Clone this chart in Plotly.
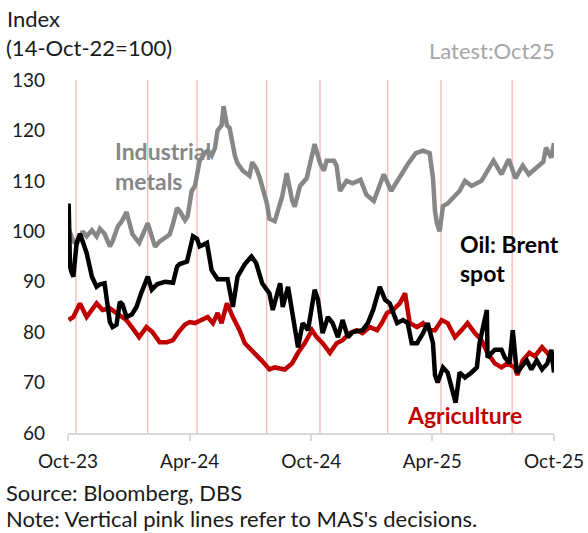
import plotly.graph_objects as go

# ---------------- data ----------------
metals_dates = ["2023-10-02","2023-10-09","2023-10-14","2023-10-19","2023-10-23","2023-10-29","2023-11-06","2023-11-13",
    "2023-11-18","2023-11-25","2023-12-03","2023-12-07","2023-12-15","2023-12-21","2023-12-28","2024-01-06","2024-01-16",
    "2024-01-29","2024-02-09","2024-02-16","2024-02-27","2024-03-02","2024-03-07","2024-03-13","2024-03-17","2024-03-25",
    "2024-03-29","2024-04-04","2024-04-09","2024-04-16","2024-04-24","2024-04-28","2024-05-04","2024-05-09","2024-05-13",
    "2024-05-19","2024-05-22","2024-05-27","2024-05-31","2024-06-08","2024-06-12","2024-06-20","2024-06-30","2024-07-04",
    "2024-07-10","2024-07-15","2024-07-26","2024-07-30","2024-08-07","2024-08-15","2024-08-18","2024-08-25","2024-09-02",
    "2024-09-06","2024-09-14","2024-09-24","2024-10-02","2024-10-06","2024-10-14","2024-10-20","2024-10-24","2024-11-04",
    "2024-11-08","2024-11-13","2024-11-23","2024-12-02","2024-12-14","2024-12-23","2025-01-03","2025-01-18","2025-01-29",
    "2025-02-13","2025-02-23","2025-03-07","2025-03-18","2025-03-28","2025-04-02","2025-04-05","2025-04-08","2025-04-12",
    "2025-04-17","2025-04-24","2025-05-05","2025-05-12","2025-05-20","2025-05-30","2025-06-14","2025-07-02","2025-07-14",
    "2025-07-25","2025-08-04","2025-08-15","2025-08-24","2025-09-10","2025-09-15","2025-09-19","2025-09-27","2025-10-01"]
metals_values = [100.5,98,97.5,98.5,100,99,100.2,99,
    100.5,99.5,97,98,101,102,103.8,99.4,97.7,
    101.6,96.9,98,99,99.4,101.5,104.6,104,102.2,
    103,108,109,114,115.5,116,115,116.5,120,
    121,124.8,121,120.5,115,113.5,112,111,113.7,
    112.5,110.8,105.6,102.5,102,105,106.8,111.5,106.2,
    104.9,109,110.5,115,117.3,113.5,112,114,114,
    113,108,110,109.5,110.2,107.2,106,111.3,108,
    111.3,113.3,115.5,116,115.5,110.5,104,101.5,100,
    105,105.5,107,108,110,109,110,114,111.3,
    114.3,110.5,113,111.3,113.2,113.8,116.6,114.6,117.5]

oil_dates = ["2023-10-02","2023-10-04","2023-10-06","2023-10-09","2023-10-14","2023-10-19","2023-10-23","2023-10-29",
    "2023-11-06","2023-11-13","2023-11-18","2023-11-25","2023-12-03","2023-12-07","2023-12-13","2023-12-18","2023-12-22",
    "2023-12-28","2024-01-05","2024-01-12","2024-01-19","2024-01-29","2024-02-04","2024-02-12","2024-02-24","2024-03-07",
    "2024-03-13","2024-03-17","2024-03-28","2024-04-06","2024-04-12","2024-04-16","2024-04-27","2024-05-04","2024-05-13",
    "2024-05-28","2024-06-05","2024-06-12","2024-06-23","2024-07-03","2024-07-10","2024-07-19","2024-07-30","2024-08-04",
    "2024-08-15","2024-08-19","2024-08-27","2024-09-03","2024-09-11","2024-09-18","2024-09-26","2024-10-03","2024-10-06",
    "2024-10-11","2024-10-18","2024-10-26","2024-11-02","2024-11-10","2024-11-17","2024-11-25","2024-12-02","2024-12-17",
    "2024-12-25","2025-01-02","2025-01-12","2025-01-20","2025-01-27","2025-02-07","2025-02-16","2025-02-23","2025-03-01",
    "2025-03-09","2025-03-18","2025-03-25","2025-04-02","2025-04-05","2025-04-09","2025-04-17","2025-04-24","2025-05-05",
    "2025-05-06","2025-05-12","2025-05-20","2025-05-30","2025-06-07","2025-06-11","2025-06-16","2025-06-22","2025-06-23",
    "2025-06-29","2025-07-04","2025-07-14","2025-07-19","2025-07-26","2025-07-31","2025-08-06","2025-08-13","2025-08-21",
    "2025-08-28","2025-09-05","2025-09-13","2025-09-21","2025-09-27","2025-10-01"]
oil_values = [105.5,93,92,91,97.7,99.5,98,95.7,
    91,89,89.5,89.7,82,81,81.5,86,85.5,
    83,83.5,85,87.7,91,88.4,89.5,90,89.8,
    93,93.5,94,99,98.5,97,97.7,92.3,90.5,
    90.5,85,91,93.5,95,93.7,89.7,87.7,84.4,
    89.7,85,89,83,77,81.8,80.4,86,88.4,
    86.4,79.8,83,81.8,79,82.4,79,80,80.4,
    81.8,84.4,89,86.4,85.7,81.8,82.4,81.8,77.8,
    77.8,79.8,81.8,77.8,71.5,70,73,72,66.5,
    66,72,71,72,73,77.8,80.4,84.4,75,
    76,76.5,76.5,75,73.8,80.4,72,73,74.4,
    72.6,74.4,72.6,73.8,76.5,72]

agri_dates = ["2023-10-02","2023-10-09","2023-10-19","2023-10-29","2023-11-13","2023-11-22","2023-12-03","2023-12-13",
    "2023-12-21","2023-12-28","2024-01-05","2024-01-16","2024-01-27","2024-02-05","2024-02-16","2024-02-27","2024-03-07",
    "2024-03-14","2024-03-25","2024-04-01","2024-04-09","2024-04-19","2024-04-28","2024-05-06","2024-05-13","2024-05-19",
    "2024-05-27","2024-06-05","2024-06-15","2024-06-23","2024-07-03","2024-07-18","2024-07-30","2024-08-07","2024-08-22",
    "2024-09-02","2024-09-11","2024-09-21","2024-10-02","2024-10-09","2024-10-18","2024-10-29","2024-11-08","2024-11-17",
    "2024-11-28","2024-12-08","2024-12-17","2024-12-28","2025-01-08","2025-01-15","2025-01-23","2025-02-01","2025-02-11",
    "2025-02-19","2025-02-26","2025-03-09","2025-03-18","2025-03-28","2025-04-05","2025-04-15","2025-04-24","2025-05-05",
    "2025-05-15","2025-05-24","2025-06-04","2025-06-14","2025-06-23","2025-07-04","2025-07-14","2025-07-23","2025-08-03",
    "2025-08-07","2025-08-15","2025-08-25","2025-09-02","2025-09-13","2025-09-21","2025-09-28","2025-10-01"]
agri_values = [82.4,83,85.7,83,85.7,84.4,84.7,83.8,
    83,82.4,81,79,81,80,78,78,78.4,
    79.8,81.5,82,81.8,82.4,83,81.8,83.8,81.8,
    85.7,83,80.4,77.8,76.5,74.4,72.6,73,72.6,
    73.8,75.9,77.8,80.4,79,77.8,75.9,77.8,78.4,
    79.8,80.4,79.8,81,80.4,81.8,83.8,84.4,85.7,
    87.7,81.8,81,81.8,80.4,80.4,82.4,81.8,79,
    80.4,81.8,79.8,78.4,75.9,73.8,73,73.8,73,
    71.5,74.4,75.9,75.2,77,75.9,74.4,74.8]

mas_decision_dates = ["2023-10-13","2024-01-29","2024-04-12","2024-07-26",
                      "2024-10-14","2025-01-24","2025-04-14","2025-07-30"]

x_tick_dates = ["2023-10-01","2024-04-01","2024-10-01","2025-04-01","2025-10-01"]
x_tick_labels = ["Oct-23","Apr-24","Oct-24","Apr-25","Oct-25"]
y_tick_values = [60,70,80,90,100,110,120,130]

# ---------------- figure ----------------
FONT = "Lato"
fig = go.Figure()

fig.add_trace(go.Scatter(x=metals_dates, y=metals_values, mode="lines",
                         line=dict(color="#878787", width=4.5), name="Industrial metals"))
fig.add_trace(go.Scatter(x=agri_dates, y=agri_values, mode="lines",
                         line=dict(color="#C00000", width=4.5), name="Agriculture"))
fig.add_trace(go.Scatter(x=oil_dates, y=oil_values, mode="lines",
                         line=dict(color="#000000", width=4.5), name="Oil: Brent spot"))

for d in mas_decision_dates:
    fig.add_shape(type="line", xref="x", yref="paper", x0=d, x1=d, y0=0, y1=1,
                  line=dict(color="#F0A0A0", width=1), layer="below")

FIG_W, FIG_H = 588, 533
L, T, W, H = 68, 80, 486, 353          # plot area in page pixels

def px(xp): return (xp - L) / W
def py(yp): return (T + H - yp) / H

def note(text, x, y, size=22, color="#1a1a1a", bold=False, xanchor="left"):
    fig.add_annotation(text=f"<b>{text}</b>" if bold else text, xref="paper", yref="paper",
                       x=x, y=y, xanchor=xanchor, yanchor="middle", showarrow=False,
                       font=dict(family=FONT, size=size, color=color))

note("Index", px(5), py(18))
note("(14-Oct-22=100)", px(4), py(47))
note("Latest:Oct25", px(557), py(50), color="#A6A6A6", xanchor="right")
note("Source: Bloomberg, DBS", px(4), py(492))
note("Note: Vertical pink lines refer to MAS's decisions.", px(4), py(518))
note("Industrial", px(113), py(151), size=23, color="#878787", bold=True)
note("metals", px(113), py(181), size=23, color="#878787", bold=True)
note("Oil: Brent", px(458), py(244), size=23, color="#000000", bold=True)
note("spot", px(458), py(273), size=23, color="#000000", bold=True)
note("Agriculture", px(405), py(415), size=23, color="#C00000", bold=True)

fig.update_layout(
    template="none",
    width=FIG_W, height=FIG_H,
    margin=dict(l=L, r=FIG_W - L - W, t=T, b=FIG_H - T - H, pad=0),
    paper_bgcolor="white", plot_bgcolor="white",
    showlegend=False, hovermode=False,
    font=dict(family=FONT, size=19, color="#1a1a1a"),
    xaxis=dict(type="date", range=["2023-10-01", "2025-10-01"],
               tickvals=x_tick_dates, ticktext=x_tick_labels,
               showgrid=False, zeroline=False, automargin=False,
               showline=True, linecolor="#D9D9D9", linewidth=2,
               ticks="outside", ticklen=6, tickwidth=2, tickcolor="#D9D9D9",
               ticklabelstandoff=4,
               tickfont=dict(family=FONT, size=19, color="#1a1a1a")),
    yaxis=dict(range=[60, 130], tickvals=y_tick_values,
               showgrid=False, zeroline=False, showline=False, automargin=False,
               ticks="", ticklabelstandoff=22,
               tickfont=dict(family=FONT, size=19, color="#1a1a1a")),
)

# remove the default 8px page margin so the figure fills the 588x533 window exactly
fig.write_html("out.html", config={"displayModeBar": False},
               post_script="document.body.style.margin='0px';")
